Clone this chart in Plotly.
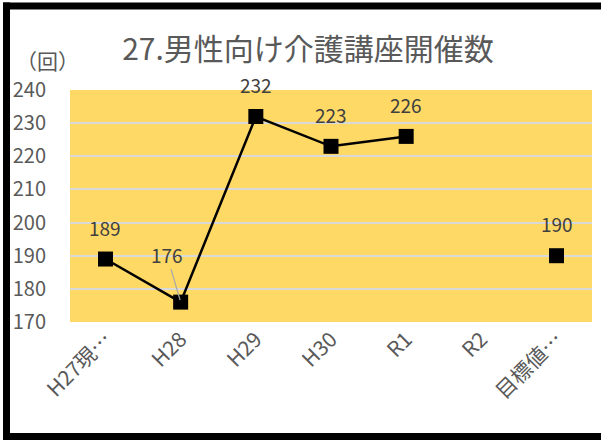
import plotly.graph_objects as go

categories = ["H27現…", "H28", "H29", "H30", "R1", "R2", "目標値…"]
values = [189, 176, 232, 223, 226, None, 190]
y_ticks = [170, 180, 190, 200, 210, 220, 230, 240]
title_text = "27.男性向け介護講座開催数"
unit_text = "（回）"

FONT = "Noto Sans CJK JP, Noto Sans, sans-serif"
W, H = 601, 440
L, R, T, B = 70, 9, 90, 118
PW, PH = W - L - R, H - T - B


def px_x(p):
    return (p - L) / PW


def px_y(p):
    return (H - B - p) / PH


fig = go.Figure()
fig.add_trace(go.Scatter(
    x=categories, y=values, mode="lines+markers",
    line=dict(color="black", width=2.5),
    marker=dict(symbol="square", size=15, color="black"),
    connectgaps=False, hoverinfo="x+y",
))

annotations = []
for c, v in zip(categories, values):
    if v is None:
        continue
    if c == "H28":
        annotations.append(dict(
            x=c, y=v, xref="x", yref="y", text=str(v), showarrow=True,
            ax=-14, ay=-48, arrowhead=0, arrowwidth=1.2, arrowcolor="#A6A6A6",
            standoff=2, font=dict(family=FONT, size=19, color="#404040"),
        ))
    else:
        annotations.append(dict(
            x=c, y=v, xref="x", yref="y", text=str(v), showarrow=False,
            yshift=32, font=dict(family=FONT, size=19, color="#404040"),
        ))

annotations.append(dict(
    x=px_x(47), y=px_y(60), xref="paper", yref="paper", text=unit_text,
    showarrow=False, xanchor="center", yanchor="middle",
    font=dict(family=FONT, size=21, color="#595959"),
))

border = dict(color="black", width=7)
shapes = [
    dict(type="line", xref="paper", yref="paper", layer="above",
         x0=px_x(6.5), x1=px_x(6.5), y0=px_y(440), y1=px_y(2.5), line=border),
    dict(type="line", xref="paper", yref="paper", layer="above",
         x0=px_x(3), x1=px_x(700), y0=px_y(6), y1=px_y(6), line=border),
    dict(type="line", xref="paper", yref="paper", layer="above",
         x0=px_x(3), x1=px_x(700), y0=px_y(436.5), y1=px_y(436.5), line=border),
]

fig.update_layout(
    width=W, height=H,
    margin=dict(l=L, r=R, t=T, b=B, pad=0, autoexpand=False),
    paper_bgcolor="white", plot_bgcolor="#FFD966",
    showlegend=False,
    title=dict(text=title_text, x=308 / W, xanchor="center", xref="container",
               y=1 - 49 / H, yanchor="middle", yref="container",
               font=dict(family=FONT, size=30, color="#595959")),
    font=dict(family=FONT, color="#595959"),
    annotations=annotations, shapes=shapes,
    xaxis=dict(type="category", categoryorder="array", categoryarray=categories,
               tickangle=-45, tickfont=dict(family=FONT, size=21, color="#595959"),
               showgrid=False, showline=False, zeroline=False, ticks="",
               automargin=False),
    yaxis=dict(range=[170, 240], tickvals=y_ticks, showgrid=True,
               gridcolor="#D9D9D9", gridwidth=2, zeroline=False, showline=False,
               tickfont=dict(family=FONT, size=20, color="#595959"),
               ticklabelstandoff=23, ticks="", automargin=False),
)

fig.write_html(
    "out.html",
    config={"displayModeBar": False},
    post_script="document.body.style.margin='0';document.body.style.overflow='hidden';",
)
